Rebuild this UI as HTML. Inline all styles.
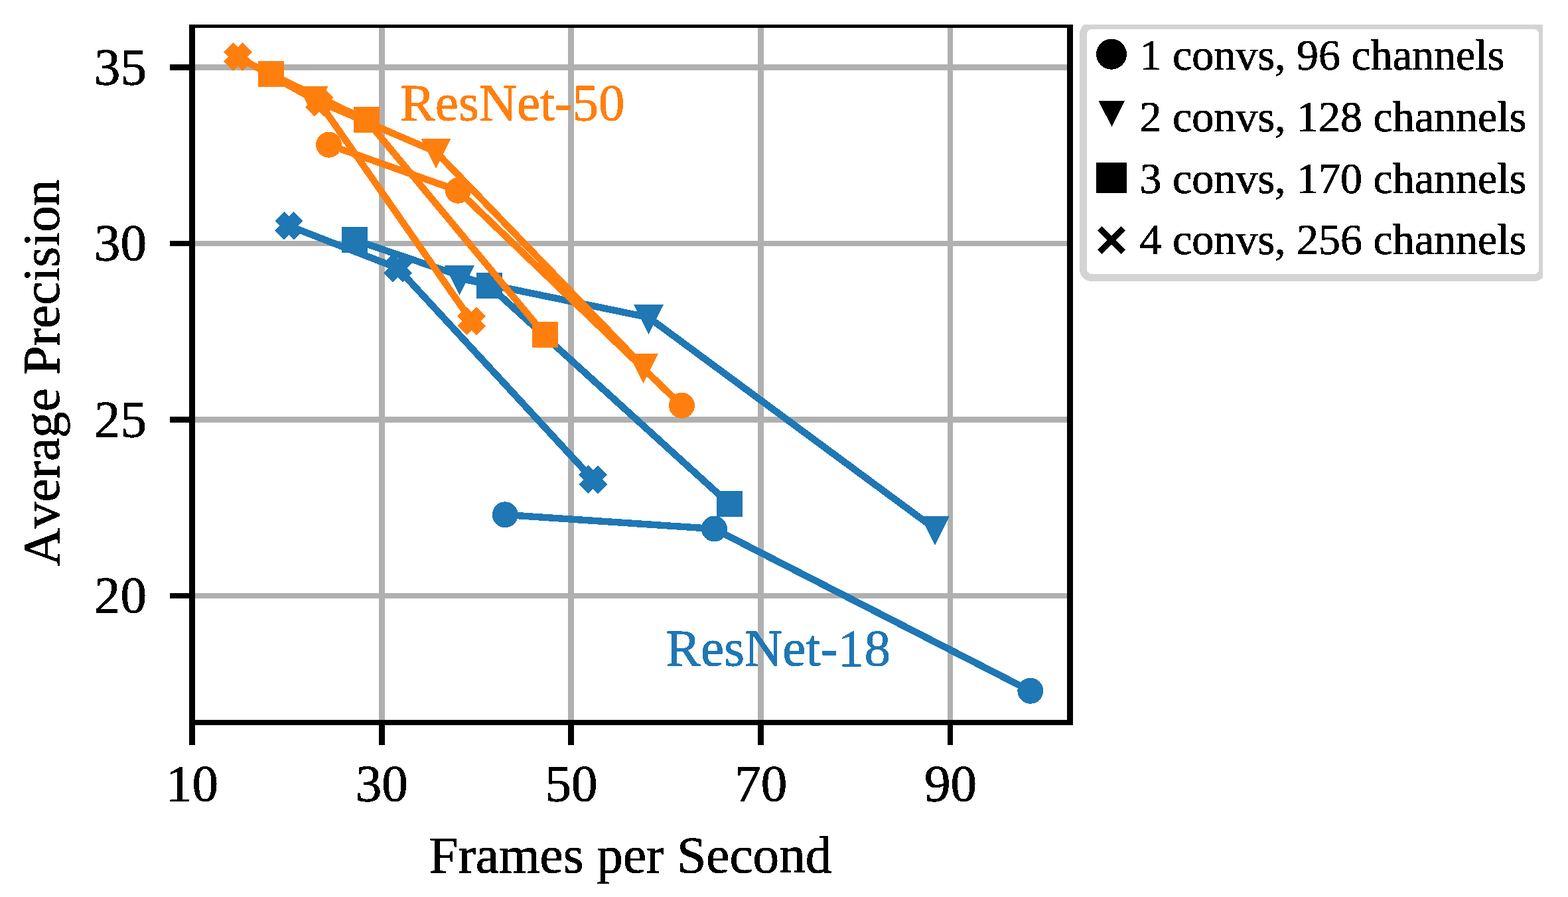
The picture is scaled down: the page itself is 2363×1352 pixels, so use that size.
<!DOCTYPE html>
<html lang="en"><head><meta charset="utf-8"><title>Average Precision vs Frames per Second</title>
<style>html,body{margin:0;padding:0;background:#fff}body{width:2363px;height:1352px}svg{display:block}text{font-family:"Liberation Serif","DejaVu Serif",serif;font-kerning:none}</style>
</head><body>
<svg width="2363" height="1352" viewBox="0 0 2363 1352" shape-rendering="crispEdges">
<rect x="0" y="0" width="2363" height="1352" fill="#ffffff"/>
<defs><filter id="t" x="-5%" y="-20%" width="110%" height="140%" color-interpolation-filters="sRGB"><feComponentTransfer><feFuncA type="discrete" tableValues="0 1"/></feComponentTransfer></filter><clipPath id="fig"><rect x="0" y="37" width="2325" height="1315"/></clipPath>
<clipPath id="ax"><rect x="289.5" y="37" width="1323" height="1052"/></clipPath></defs>
<g fill="#b0b0b0">
<rect x="571" y="42" width="9" height="1043"/>
<rect x="856" y="42" width="9" height="1043"/>
<rect x="1142" y="42" width="9" height="1043"/>
<rect x="1428" y="42" width="8" height="1043"/>
<rect x="294" y="97" width="1314" height="9"/>
<rect x="294" y="363" width="1314" height="8"/>
<rect x="294" y="628" width="1314" height="9"/>
<rect x="294" y="894" width="1314" height="8"/>
</g>
<g clip-path="url(#ax)">
<polyline points="761.2,775.87 1076.4,797.11 1552.8,1041.37" fill="none" stroke="#1f77b4" stroke-width="10.4" stroke-linejoin="round" stroke-linecap="butt"/>
<circle cx="761.2" cy="775.77" r="14.7" fill="#1f77b4" stroke="#1f77b4" stroke-width="9.5" stroke-linejoin="miter" stroke-miterlimit="10"/>
<circle cx="1076.4" cy="797.01" r="14.7" fill="#1f77b4" stroke="#1f77b4" stroke-width="9.5" stroke-linejoin="miter" stroke-miterlimit="10"/>
<circle cx="1552.8" cy="1041.27" r="14.7" fill="#1f77b4" stroke="#1f77b4" stroke-width="9.5" stroke-linejoin="miter" stroke-miterlimit="10"/>
<polyline points="692.5,419.57 977.6,478.51 1409,797.11" fill="none" stroke="#1f77b4" stroke-width="10.4" stroke-linejoin="round" stroke-linecap="butt"/>
<polygon points="677.8,404.87 707.2,404.87 692.5,434.27" fill="#1f77b4" stroke="#1f77b4" stroke-width="9.5" stroke-linejoin="miter" stroke-miterlimit="10"/>
<polygon points="962.9,463.81 992.3,463.81 977.6,493.21" fill="#1f77b4" stroke="#1f77b4" stroke-width="9.5" stroke-linejoin="miter" stroke-miterlimit="10"/>
<polygon points="1394.3,782.41 1423.7,782.41 1409,811.81" fill="#1f77b4" stroke="#1f77b4" stroke-width="9.5" stroke-linejoin="miter" stroke-miterlimit="10"/>
<polyline points="534.6,361.69 737.4,430.72 1099.6,759.94" fill="none" stroke="#1f77b4" stroke-width="10.4" stroke-linejoin="round" stroke-linecap="butt"/>
<rect x="519.9" y="346.49" width="29.4" height="29.4" fill="#1f77b4" stroke="#1f77b4" stroke-width="9.5" stroke-linejoin="miter" stroke-miterlimit="10"/>
<rect x="722.7" y="415.52" width="29.4" height="29.4" fill="#1f77b4" stroke="#1f77b4" stroke-width="9.5" stroke-linejoin="miter" stroke-miterlimit="10"/>
<rect x="1084.9" y="744.74" width="29.4" height="29.4" fill="#1f77b4" stroke="#1f77b4" stroke-width="9.5" stroke-linejoin="miter" stroke-miterlimit="10"/>
<polyline points="435.5,340.45 599.4,404.17 893.7,722.77" fill="none" stroke="#1f77b4" stroke-width="10.4" stroke-linejoin="round" stroke-linecap="butt"/>
<polygon points="428.15,325.65 435.5,333 442.85,325.65 450.2,333 442.85,340.35 450.2,347.7 442.85,355.05 435.5,347.7 428.15,355.05 420.8,347.7 428.15,340.35 420.8,333" fill="#1f77b4" stroke="#1f77b4" stroke-width="9.5" stroke-linejoin="miter" stroke-miterlimit="10"/>
<polygon points="592.05,389.37 599.4,396.72 606.75,389.37 614.1,396.72 606.75,404.07 614.1,411.42 606.75,418.77 599.4,411.42 592.05,418.77 584.7,411.42 592.05,404.07 584.7,396.72" fill="#1f77b4" stroke="#1f77b4" stroke-width="9.5" stroke-linejoin="miter" stroke-miterlimit="10"/>
<polygon points="886.35,707.97 893.7,715.32 901.05,707.97 908.4,715.32 901.05,722.67 908.4,730.02 901.05,737.37 893.7,730.02 886.35,737.37 879,730.02 886.35,722.67 879,715.32" fill="#1f77b4" stroke="#1f77b4" stroke-width="9.5" stroke-linejoin="miter" stroke-miterlimit="10"/>
</g>
<g clip-path="url(#ax)">
<polyline points="495.6,218.32 690.4,287.35 1027.5,611.26" fill="none" stroke="#ff7f0e" stroke-width="10.4" stroke-linejoin="round" stroke-linecap="butt"/>
<circle cx="495.6" cy="218.22" r="14.7" fill="#ff7f0e" stroke="#ff7f0e" stroke-width="9.5" stroke-linejoin="miter" stroke-miterlimit="10"/>
<circle cx="690.4" cy="287.25" r="14.7" fill="#ff7f0e" stroke="#ff7f0e" stroke-width="9.5" stroke-linejoin="miter" stroke-miterlimit="10"/>
<circle cx="1027.5" cy="611.16" r="14.7" fill="#ff7f0e" stroke="#ff7f0e" stroke-width="9.5" stroke-linejoin="miter" stroke-miterlimit="10"/>
<polyline points="472,149.29 657,228.94 969.6,552.85" fill="none" stroke="#ff7f0e" stroke-width="10.4" stroke-linejoin="round" stroke-linecap="butt"/>
<polygon points="457.3,134.59 486.7,134.59 472,163.99" fill="#ff7f0e" stroke="#ff7f0e" stroke-width="9.5" stroke-linejoin="miter" stroke-miterlimit="10"/>
<polygon points="642.3,214.24 671.7,214.24 657,243.64" fill="#ff7f0e" stroke="#ff7f0e" stroke-width="9.5" stroke-linejoin="miter" stroke-miterlimit="10"/>
<polygon points="954.9,538.15 984.3,538.15 969.6,567.55" fill="#ff7f0e" stroke="#ff7f0e" stroke-width="9.5" stroke-linejoin="miter" stroke-miterlimit="10"/>
<polyline points="408.4,112.12 552.4,181.15 821.5,505.06" fill="none" stroke="#ff7f0e" stroke-width="10.4" stroke-linejoin="round" stroke-linecap="butt"/>
<rect x="393.7" y="96.92" width="29.4" height="29.4" fill="#ff7f0e" stroke="#ff7f0e" stroke-width="9.5" stroke-linejoin="miter" stroke-miterlimit="10"/>
<rect x="537.7" y="165.95" width="29.4" height="29.4" fill="#ff7f0e" stroke="#ff7f0e" stroke-width="9.5" stroke-linejoin="miter" stroke-miterlimit="10"/>
<rect x="806.8" y="489.86" width="29.4" height="29.4" fill="#ff7f0e" stroke="#ff7f0e" stroke-width="9.5" stroke-linejoin="miter" stroke-miterlimit="10"/>
<polyline points="358.5,85.57 481.4,154.6 710.6,483.82" fill="none" stroke="#ff7f0e" stroke-width="10.4" stroke-linejoin="round" stroke-linecap="butt"/>
<polygon points="351.15,70.77 358.5,78.12 365.85,70.77 373.2,78.12 365.85,85.47 373.2,92.82 365.85,100.17 358.5,92.82 351.15,100.17 343.8,92.82 351.15,85.47 343.8,78.12" fill="#ff7f0e" stroke="#ff7f0e" stroke-width="9.5" stroke-linejoin="miter" stroke-miterlimit="10"/>
<polygon points="474.05,139.8 481.4,147.15 488.75,139.8 496.1,147.15 488.75,154.5 496.1,161.85 488.75,169.2 481.4,161.85 474.05,169.2 466.7,161.85 474.05,154.5 466.7,147.15" fill="#ff7f0e" stroke="#ff7f0e" stroke-width="9.5" stroke-linejoin="miter" stroke-miterlimit="10"/>
<polygon points="703.25,469.02 710.6,476.37 717.95,469.02 725.3,476.37 717.95,483.72 725.3,491.07 717.95,498.42 710.6,491.07 703.25,498.42 695.9,491.07 703.25,483.72 695.9,476.37" fill="#ff7f0e" stroke="#ff7f0e" stroke-width="9.5" stroke-linejoin="miter" stroke-miterlimit="10"/>
</g>
<g fill="#000000">
<rect x="285" y="37" width="9" height="1056"/>
<rect x="1608" y="37" width="9" height="1056"/>
<rect x="285" y="37" width="1332" height="5"/>
<rect x="285" y="1085" width="1332" height="8"/>
<rect x="285" y="1093" width="9" height="30"/>
<rect x="571" y="1093" width="9" height="30"/>
<rect x="856" y="1093" width="9" height="30"/>
<rect x="1142" y="1093" width="9" height="30"/>
<rect x="1428" y="1093" width="8" height="30"/>
<rect x="256" y="97" width="29" height="9"/>
<rect x="256" y="363" width="29" height="8"/>
<rect x="256" y="628" width="29" height="9"/>
<rect x="256" y="894" width="29" height="8"/>
</g>
<g font-size="79.2" fill="#000000" stroke="#000000" stroke-width="0.9" stroke-linejoin="round" filter="url(#t)">
<text x="289.5" y="1207.4" text-anchor="middle">10</text>
<text x="575.25" y="1207.4" text-anchor="middle">30</text>
<text x="861" y="1207.4" text-anchor="middle">50</text>
<text x="1146.75" y="1207.4" text-anchor="middle">70</text>
<text x="1432.5" y="1207.4" text-anchor="middle">90</text>
<text x="221" y="126.8" text-anchor="end">35</text>
<text x="221" y="392.3" text-anchor="end">30</text>
<text x="221" y="657.8" text-anchor="end">25</text>
<text x="221" y="923.3" text-anchor="end">20</text>
<text x="949.9" y="1314.8" text-anchor="middle">Frames per Second</text>
<text transform="translate(88.5 562) rotate(-90)" text-anchor="middle">Average Precision</text>
<text x="603" y="180.5" fill="#ff7f0e" stroke="#ff7f0e">ResNet-50</text>
<text x="1003.3" y="1002.7" fill="#1f77b4" stroke="#1f77b4">ResNet-18</text>
</g>
<g clip-path="url(#fig)">
<rect x="1632.5" y="38.7" width="692" height="379.8" rx="12.5" ry="12.5" fill="#ffffff" stroke="#d4d4d4" stroke-width="11"/>
</g>
<g fill="#000000">
<circle cx="1675" cy="81.7" r="23"/>
<polygon points="1655.7,152.1 1695,152.1 1675.4,191.1"/>
<rect x="1652" y="245.1" width="46" height="46"/>
<rect x="1650" y="357" width="50" height="9.4" transform="rotate(45 1675 361.7)"/>
<rect x="1650" y="357" width="50" height="9.4" transform="rotate(-45 1675 361.7)"/>
</g>
<g font-size="66" fill="#000000" stroke="#000000" stroke-width="0.8" stroke-linejoin="round" filter="url(#t)">
<text x="1717.5" y="104.7">1 convs, 96 channels</text>
<text x="1717.5" y="197.8">2 convs, 128 channels</text>
<text x="1717.5" y="291.1">3 convs, 170 channels</text>
<text x="1717.5" y="383.4">4 convs, 256 channels</text>
</g>
</svg></body></html>
